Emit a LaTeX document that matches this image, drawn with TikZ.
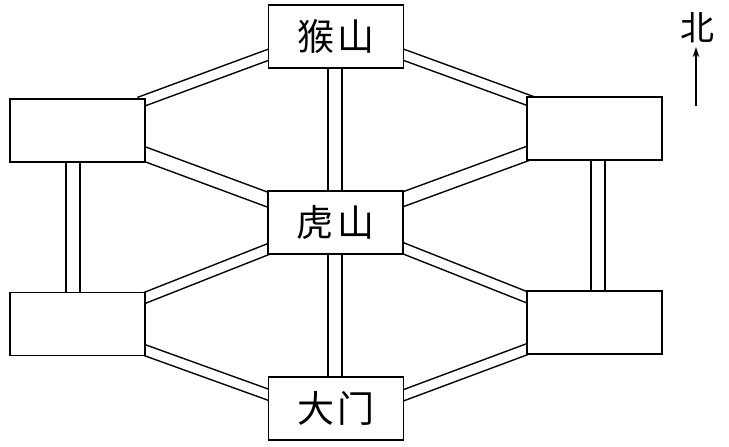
\documentclass[tikz,border=0pt]{standalone}
\usepackage{fontspec}
\newfontfamily\cjk{Noto Sans CJK SC}
\usetikzlibrary{calc,backgrounds,arrows.meta}
\begin{document}
\begin{tikzpicture}[x=1pt,y=-1pt,
  box/.style={draw, fill=white, line width=1.5pt, minimum width=135pt, minimum height=63pt, inner sep=0pt, font=\cjk\fontsize{37}{37}\selectfont},
  road/.style={draw, line width=1.5pt, double=white, double distance=#1, shorten <=-7pt, shorten >=-7pt},
  road/.default=9pt,
  lbl/.style={font=\cjk\fontsize{34}{34}\selectfont, inner sep=0pt}]
\useasboundingbox (0,0) rectangle (729,447);
% boxes
\node[box] (top) at (336,36.5) {猴\hspace{4pt}山};
\node[box] (ctr) at (335.5,222.5) {虎\hspace{4pt}山};
\node[box] (bot) at (336,408.5) {大\hspace{4pt}门};
\node[box] (lt) at (77.5,130.5) {};
\node[box] (lb) at (77.5,324) {};
\node[box] (rt) at (594.5,128.5) {};
\node[box] (rb) at (594.5,322.5) {};
% roads
\begin{pgfonlayer}{background}
\draw[road] ($(lt.east)+(0,-30.5)$) -- ($(top.west)+(0,18.5)$);
\draw[road] ($(top.east)+(0,18.5)$) -- ($(rt.west)+(0,-29)$);
\draw[road=12.5pt] ($(ctr.north)+(-0.5,0)$) -- ($(top.south)+(-1,0)$);
\draw[road=12.5pt] ($(lt.east)+(0,24)$) -- ($(ctr.west)+(0,-23)$);
\draw[road=12.5pt] ($(ctr.east)+(0,-23.5)$) -- ($(rt.west)+(0,25.5)$);
\draw[road=12.5pt] ($(lt.south)+(-4.5,0)$) -- ($(lb.north)+(-4.5,0)$);
\draw[road=12.5pt] ($(rt.south)+(3.5,0)$) -- ($(rb.north)+(3.5,0)$);
\draw[road] ($(lb.east)+(0,-26.5)$) -- ($(ctr.west)+(0,27)$);
\draw[road] ($(ctr.east)+(0,26)$) -- ($(rb.west)+(0,-25.5)$);
\draw[road=12.5pt] ($(ctr.south)+(-0.5,0)$) -- ($(bot.north)+(-1,0)$);
\draw[road] ($(lb.east)+(0,26.5)$) -- ($(bot.west)+(0,-14)$);
\draw[road] ($(bot.east)+(0,-13.5)$) -- ($(rb.west)+(0,27)$);
\end{pgfonlayer}
% north arrow
\node[lbl] (north) at (697.5,28) {北};
\coordinate (ntail) at (696,106);
\coordinate (ntip) at (696,47);
\draw[line width=1.5pt, -{Stealth[length=10pt,width=6.5pt]}] (ntail) -- (ntip);
\end{tikzpicture}
\end{document}
